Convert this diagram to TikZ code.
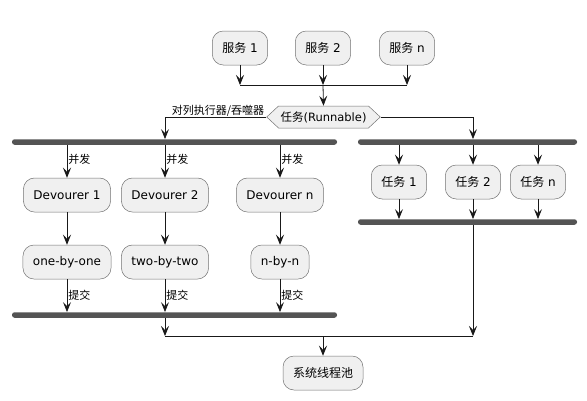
\documentclass[tikz,border=0pt]{standalone}
\usepackage{fontspec}
\setmainfont{DejaVu Sans}
\newfontfamily\cjk{Noto Sans CJK SC}
\usetikzlibrary{arrows.meta,shapes.symbols}
\begin{document}
\begin{tikzpicture}[x=1pt,y=-1pt,
  act/.style={draw=black!55, line width=0.5pt, fill=black!6, rounded corners=11pt,
    minimum height=34pt, inner xsep=10pt, inner ysep=0pt,
    font=\fontsize{12}{14}\selectfont},
  hexa/.style={signal, signal to=east and west, signal pointer angle=86,
    draw=black!55, line width=0.5pt, fill=black!6, minimum height=22pt,
    inner xsep=2pt, inner ysep=0pt, font=\fontsize{11.5}{13}\selectfont},
  bar/.style={fill=black!67, draw=none, rounded corners=2.5pt, minimum height=5.5pt,
    inner sep=0pt},
  arr/.style={-{Stealth[length=10pt,width=8pt,inset=4pt]}, line width=0.8pt, draw=black!90},
  ln/.style={line width=0.8pt, draw=black!90},
  lbl/.style={font=\fontsize{11}{12}\cjk, inner sep=1pt}]
\useasboundingbox (0,0) rectangle (587,400);
% services
\node[act] (s1) at (240,48) {{\cjk 服务} 1};
\node[act] (s2) at (323,48) {{\cjk 服务} 2};
\node[act] (sn) at (407,48) {{\cjk 服务} n};
\coordinate (j0) at (323,85);
\node[hexa, minimum width=107pt] (dia) at (323.5,117) {{\cjk 任务}(Runnable)};
% left fork
\node[bar, minimum width=325pt] (f1) at (174.5,142) {};
\node[act] (d1) at (67,195) {Devourer 1};
\node[act] (d2) at (165,195) {Devourer 2};
\node[act] (dn) at (280,195) {Devourer n};
\node[act] (o1) at (67,262) {one-by-one};
\node[act] (o2) at (165,262) {two-by-two};
\node[act] (on) at (280,262) {n-by-n};
\node[bar, minimum width=325pt] (f3) at (174.5,315) {};
% right fork
\node[bar, minimum width=219pt] (f2) at (467.5,142) {};
\node[act] (t1) at (399,182) {{\cjk 任务} 1};
\node[act] (t2) at (473,182) {{\cjk 任务} 2};
\node[act] (tn) at (538,182) {{\cjk 任务} n};
\node[bar, minimum width=219pt] (f4) at (467.5,222) {};
% merge
\coordinate (m) at (323,336);
\node[act] (sys) at (323,373) {\cjk 系统线程池};
% connectors top
\draw[arr] (s1) -- (s1 |- j0);
\draw[arr] (s2) -- (s2 |- j0);
\draw[arr] (sn) -- (sn |- j0);
\draw[ln] (s1 |- j0) -- (sn |- j0);
\draw[arr] (j0) -- (dia.north);
\draw[arr] (dia.west) -| (d2 |- f1.north);
\node[lbl, anchor=south east] (lab) at ([xshift=-1pt,yshift=-1pt]dia.west) {对列执行器/吞噬器};
\draw[arr] (dia.east) -| (t2 |- f2.north);
% left branches
\draw[arr] (d1 |- f1.south) -- node[lbl, right, pos=0.45] (p1) {并发} (d1);
\draw[arr] (d2 |- f1.south) -- node[lbl, right, pos=0.45] (p2) {并发} (d2);
\draw[arr] (dn |- f1.south) -- node[lbl, right, pos=0.45] (p3) {并发} (dn);
\draw[arr] (d1) -- (o1);
\draw[arr] (d2) -- (o2);
\draw[arr] (dn) -- (on);
\draw[arr] (o1) -- node[lbl, right, pos=0.5] (q1) {提交} (o1 |- f3.north);
\draw[arr] (o2) -- node[lbl, right, pos=0.5] (q2) {提交} (o2 |- f3.north);
\draw[arr] (on) -- node[lbl, right, pos=0.5] (q3) {提交} (on |- f3.north);
% right branches
\draw[arr] (t1 |- f2.south) -- (t1);
\draw[arr] (t2 |- f2.south) -- (t2);
\draw[arr] (tn |- f2.south) -- (tn);
\draw[arr] (t1) -- (t1 |- f4.north);
\draw[arr] (t2) -- (t2 |- f4.north);
\draw[arr] (tn) -- (tn |- f4.north);
% merge
\draw[arr] (o2 |- f3.south) -- (o2 |- m);
\draw[arr] (t2 |- f4.south) -- (t2 |- m);
\draw[ln] (o2 |- m) -- (t2 |- m);
\draw[arr] (m) -- (sys);
\end{tikzpicture}
\end{document}
